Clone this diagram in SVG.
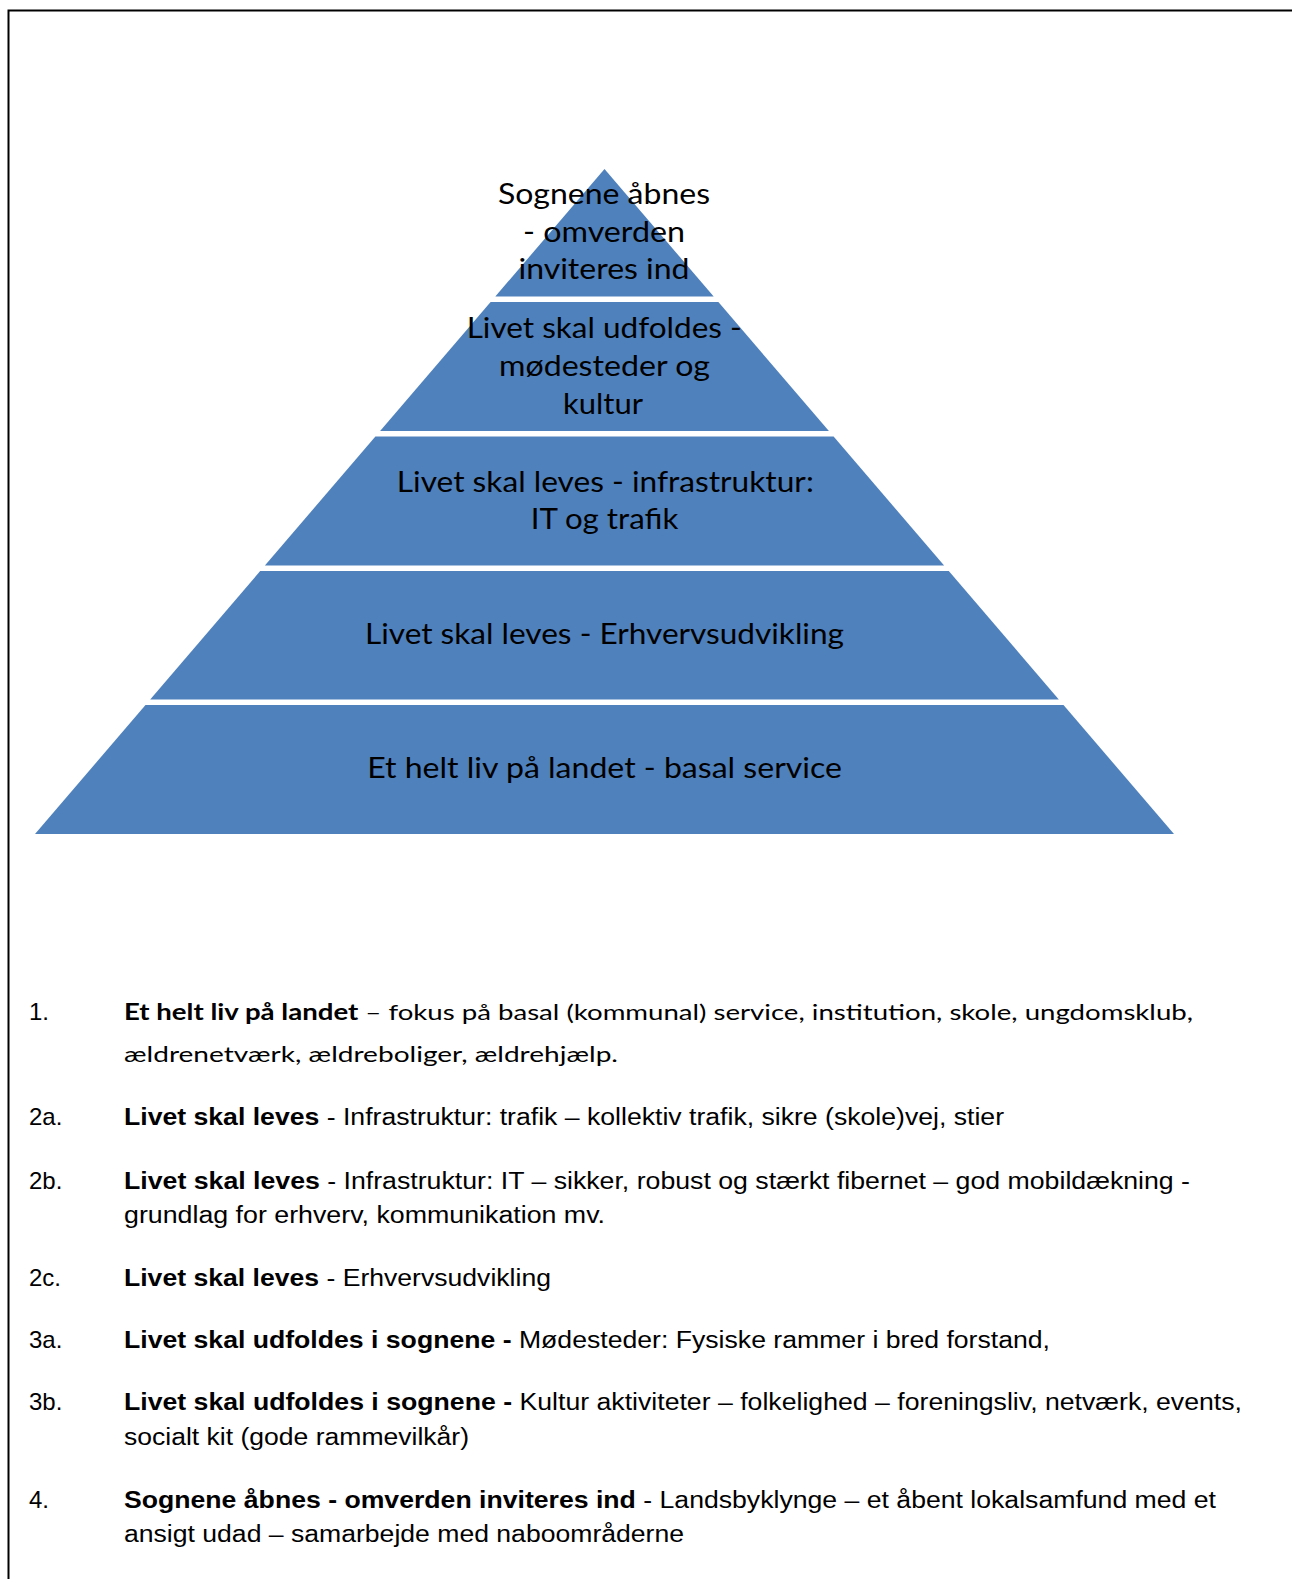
<svg xmlns="http://www.w3.org/2000/svg" width="1292" height="1579" viewBox="0 0 1292 1579">
  <style>
    .tier { fill: #4F81BD; }
    .pt { font-family: Lato, "Open Sans", "Liberation Sans", sans-serif; font-size: 28px; fill: #000; text-anchor: middle; }
    .num { font-family: "Liberation Sans", Arial, sans-serif; font-size: 24px; fill: #000; }
    .ar { font-family: "Liberation Sans", Arial, sans-serif; font-size: 23.5px; fill: #000; }
    .cal { font-family: Lato, "Open Sans", "Liberation Sans", sans-serif; font-size: 22px; fill: #000; }
    .b { font-weight: bold; }
  </style>
  <rect x="0" y="0" width="1292" height="1579" fill="#fff"/>
  <path d="M8.5,1579 V10.5 H1292" fill="none" stroke="#000" stroke-width="2"/>

  <g id="tier-4-sognene">
    <polygon class="tier" points="604.5,169 713.7,296.5 495.3,296.5"/>
    <text class="pt" x="604" y="204" textLength="212" lengthAdjust="spacingAndGlyphs">Sognene åbnes</text>
    <text class="pt" x="604" y="241.7" textLength="162" lengthAdjust="spacingAndGlyphs">- omverden</text>
    <text class="pt" x="604" y="279.3" textLength="171" lengthAdjust="spacingAndGlyphs">inviteres ind</text>
  </g>
  <g id="tier-3-udfoldes">
    <polygon class="tier" points="490.6,302 718.4,302 828.9,431 380.1,431"/>
    <text class="pt" x="604.2" y="338.3" textLength="275" lengthAdjust="spacingAndGlyphs">Livet skal udfoldes -</text>
    <text class="pt" x="604.5" y="376" textLength="211" lengthAdjust="spacingAndGlyphs">mødesteder og</text>
    <text class="pt" x="603" y="413.6" textLength="80" lengthAdjust="spacingAndGlyphs">kultur</text>
  </g>
  <g id="tier-2-infrastruktur">
    <polygon class="tier" points="375.4,436.5 833.6,436.5 944.1,565.5 264.9,565.5"/>
    <text class="pt" x="605.3" y="491.7" textLength="417" lengthAdjust="spacingAndGlyphs">Livet skal leves - infrastruktur:</text>
    <text class="pt" x="604.5" y="529.3" textLength="147.6" lengthAdjust="spacingAndGlyphs">IT og trafik</text>
  </g>
  <g id="tier-2-erhverv">
    <polygon class="tier" points="260.2,571 948.8,571 1058.8,699.5 150.2,699.5"/>
    <text class="pt" x="604.5" y="644.3" textLength="479" lengthAdjust="spacingAndGlyphs">Livet skal leves - Erhvervsudvikling</text>
  </g>
  <g id="tier-1-basal">
    <polygon class="tier" points="145.5,705 1063.5,705 1174,834 35,834"/>
    <text class="pt" x="604.6" y="778.3" textLength="474.7" lengthAdjust="spacingAndGlyphs">Et helt liv på landet - basal service</text>
  </g>

  <g id="list">
    <g id="item-1">
      <text class="num" x="29" y="1020">1.</text>
      <text class="cal" x="124" y="1020" textLength="1069" lengthAdjust="spacingAndGlyphs"><tspan class="b">Et helt liv på landet</tspan> – fokus på basal (kommunal) service, institution, skole, ungdomsklub,</text>
      <text class="cal" x="124" y="1062" textLength="494" lengthAdjust="spacingAndGlyphs">ældrenetværk, ældreboliger, ældrehjælp.</text>
    </g>
    <g id="item-2a">
      <text class="num" x="29" y="1125">2a.</text>
      <text class="ar" x="124" y="1125" textLength="880" lengthAdjust="spacingAndGlyphs"><tspan class="b">Livet skal leves</tspan> - Infrastruktur: trafik – kollektiv trafik, sikre (skole)vej, stier</text>
    </g>
    <g id="item-2b">
      <text class="num" x="29" y="1189">2b.</text>
      <text class="ar" x="124" y="1189" textLength="1066" lengthAdjust="spacingAndGlyphs"><tspan class="b">Livet skal leves</tspan> - Infrastruktur: IT – sikker, robust og stærkt fibernet – god mobildækning -</text>
      <text class="ar" x="124" y="1223" textLength="481" lengthAdjust="spacingAndGlyphs">grundlag for erhverv, kommunikation mv.</text>
    </g>
    <g id="item-2c">
      <text class="num" x="29" y="1286">2c.</text>
      <text class="ar" x="124" y="1286" textLength="427" lengthAdjust="spacingAndGlyphs"><tspan class="b">Livet skal leves</tspan> - Erhvervsudvikling</text>
    </g>
    <g id="item-3a">
      <text class="num" x="29" y="1348">3a.</text>
      <text class="ar" x="124" y="1348" textLength="926" lengthAdjust="spacingAndGlyphs"><tspan class="b">Livet skal udfoldes i sognene -</tspan> Mødesteder: Fysiske rammer i bred forstand,</text>
    </g>
    <g id="item-3b">
      <text class="num" x="29" y="1410">3b.</text>
      <text class="ar" x="124" y="1410" textLength="1118" lengthAdjust="spacingAndGlyphs"><tspan class="b">Livet skal udfoldes i sognene -</tspan> Kultur aktiviteter – folkelighed – foreningsliv, netværk, events,</text>
      <text class="ar" x="124" y="1445" textLength="345" lengthAdjust="spacingAndGlyphs">socialt kit (gode rammevilkår)</text>
    </g>
    <g id="item-4">
      <text class="num" x="29" y="1508">4.</text>
      <text class="ar" x="124" y="1508" textLength="1092" lengthAdjust="spacingAndGlyphs"><tspan class="b">Sognene åbnes - omverden inviteres ind</tspan> - Landsbyklynge – et åbent lokalsamfund med et</text>
      <text class="ar" x="124" y="1542" textLength="560" lengthAdjust="spacingAndGlyphs">ansigt udad – samarbejde med naboområderne</text>
    </g>
  </g>
</svg>
